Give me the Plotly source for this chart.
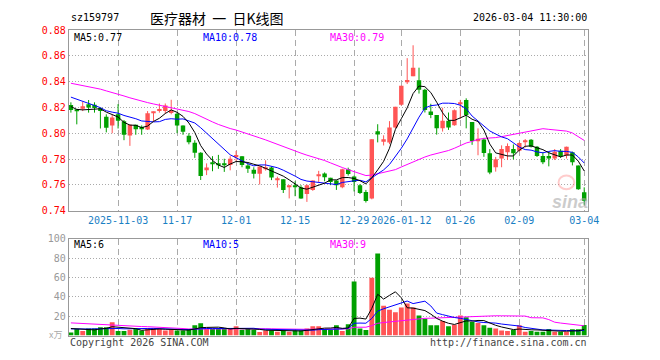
import numpy as np
import plotly.graph_objects as go

# ---------------- data ----------------
opens = [0.8220, 0.8184, 0.8190, 0.8226, 0.8221, 0.8196, 0.8128, 0.8061, 0.8147, 0.8093,
         0.7983, 0.8066, 0.8049, 0.8029, 0.8160, 0.8172, 0.8172, 0.8157, 0.8152, 0.8061,
         0.7980, 0.7926, 0.7848, 0.7712, 0.7771, 0.7766, 0.7766, 0.7753, 0.7819, 0.7822,
         0.7749, 0.7717, 0.7685, 0.7722, 0.7734, 0.7636, 0.7642, 0.7580, 0.7597, 0.7580,
         0.7528, 0.7560, 0.7669, 0.7688, 0.7654, 0.7634, 0.7580, 0.7720, 0.7664, 0.7597,
         0.7543, 0.7494, 0.8016, 0.7934, 0.7928, 0.8045, 0.8222, 0.8401, 0.8443, 0.8411,
         0.8337, 0.8168, 0.8141, 0.8038, 0.8097, 0.8063, 0.8229, 0.8259, 0.8087, 0.7945,
         0.7952, 0.7845, 0.7736, 0.7804, 0.7853, 0.7877, 0.7865, 0.7938, 0.7950, 0.7896,
         0.7823, 0.7823, 0.7804, 0.7865, 0.7828, 0.7853, 0.7750, 0.7541]
highs = [0.8240, 0.8186, 0.8245, 0.8258, 0.8240, 0.8200, 0.8147, 0.8142, 0.8226, 0.8103,
         0.8066, 0.8066, 0.8061, 0.8172, 0.8169, 0.8231, 0.8231, 0.8260, 0.8160, 0.8061,
         0.8000, 0.7946, 0.7853, 0.7766, 0.7822, 0.7832, 0.7802, 0.7822, 0.7863, 0.7822,
         0.7766, 0.7736, 0.7741, 0.7790, 0.7741, 0.7663, 0.7642, 0.7597, 0.7627, 0.7597,
         0.7602, 0.7634, 0.7708, 0.7696, 0.7654, 0.7634, 0.7725, 0.7733, 0.7671, 0.7605,
         0.7560, 0.7954, 0.8070, 0.7984, 0.8094, 0.8205, 0.8369, 0.8583, 0.8683, 0.8509,
         0.8345, 0.8229, 0.8141, 0.8198, 0.8161, 0.8185, 0.8259, 0.8271, 0.8087, 0.8038,
         0.7964, 0.7877, 0.7816, 0.7906, 0.7921, 0.7913, 0.7930, 0.7955, 0.7955, 0.7901,
         0.7853, 0.7857, 0.7877, 0.7877, 0.7896, 0.7857, 0.7750, 0.7580]
lows = [0.8160, 0.8069, 0.8172, 0.8160, 0.8160, 0.8037, 0.8007, 0.8000, 0.8037, 0.7946,
        0.7902, 0.7988, 0.7988, 0.8025, 0.8093, 0.8160, 0.8152, 0.8147, 0.8000, 0.7988,
        0.7914, 0.7809, 0.7637, 0.7675, 0.7705, 0.7724, 0.7700, 0.7712, 0.7783, 0.7736,
        0.7692, 0.7649, 0.7602, 0.7710, 0.7636, 0.7578, 0.7536, 0.7494, 0.7511, 0.7491,
        0.7467, 0.7553, 0.7622, 0.7627, 0.7597, 0.7560, 0.7573, 0.7671, 0.7548, 0.7528,
        0.7462, 0.7487, 0.7929, 0.7905, 0.7915, 0.8038, 0.8215, 0.8382, 0.8443, 0.8308,
        0.8161, 0.8117, 0.7989, 0.8013, 0.8026, 0.8058, 0.8112, 0.8038, 0.7910, 0.7829,
        0.7817, 0.7682, 0.7702, 0.7736, 0.7792, 0.7797, 0.7857, 0.7889, 0.7889, 0.7816,
        0.7760, 0.7743, 0.7792, 0.7809, 0.7804, 0.7750, 0.7561, 0.7444]
closes = [0.8180, 0.8172, 0.8210, 0.8200, 0.8196, 0.8172, 0.8042, 0.8123, 0.8098, 0.7988,
          0.8066, 0.8032, 0.8037, 0.8155, 0.8169, 0.8189, 0.8216, 0.8177, 0.8061, 0.8012,
          0.7931, 0.7848, 0.7669, 0.7734, 0.7763, 0.7753, 0.7753, 0.7802, 0.7832, 0.7753,
          0.7724, 0.7685, 0.7741, 0.7734, 0.7656, 0.7644, 0.7560, 0.7597, 0.7580, 0.7494,
          0.7597, 0.7634, 0.7678, 0.7659, 0.7622, 0.7597, 0.7720, 0.7683, 0.7622, 0.7536,
          0.7474, 0.7954, 0.7991, 0.7954, 0.8045, 0.8205, 0.8369, 0.8413, 0.8509, 0.8337,
          0.8180, 0.8141, 0.8038, 0.8097, 0.8045, 0.8178, 0.8239, 0.8141, 0.7940, 0.7957,
          0.7847, 0.7695, 0.7799, 0.7877, 0.7901, 0.7845, 0.7925, 0.7945, 0.7896, 0.7823,
          0.7775, 0.7804, 0.7857, 0.7823, 0.7896, 0.7775, 0.7566, 0.7476]
volumes = [3.3, 6.7, 4.7, 7.3, 7.3, 8.7, 8.7, 13.7, 4.7, 4.7,
           6.0, 6.7, 5.3, 7.7, 7.7, 6.7, 5.3, 6.0, 5.3, 5.3,
           6.7, 10.7, 12.7, 6.7, 6.7, 6.7, 6.7, 7.3, 9.7, 6.0,
           6.7, 6.0, 3.7, 5.3, 5.3, 4.0, 5.3, 4.0, 5.3, 5.3,
           7.3, 9.7, 9.7, 6.5, 5.7, 10.7, 4.7, 11.7, 55.7, 7.3,
           5.7, 59.7, 84.7, 30.7, 26.7, 24.0, 29.0, 33.0, 29.0, 20.7,
           17.3, 10.7, 10.7, 15.0, 9.7, 11.3, 20.7, 19.0, 14.0, 13.0,
           10.7, 8.0, 7.3, 5.3, 4.7, 5.7, 10.7, 4.0, 4.7, 4.0,
           4.0, 6.7, 4.0, 4.0, 4.0, 6.5, 6.5, 11.0]
# closes / volumes of the 29 sessions before the window (estimated from the MA curves)
prior_close = [0.842, 0.845, 0.848, 0.850, 0.847, 0.845, 0.846, 0.845,
               0.848, 0.850, 0.846, 0.843, 0.845, 0.848, 0.849, 0.846, 0.843,
               0.838, 0.833, 0.827,
               0.832, 0.836, 0.838, 0.837, 0.834,
               0.828, 0.823, 0.818, 0.8165]
prior_volume = [18, 16, 19, 17, 18, 16, 17, 19,
                13, 15, 14, 16, 12, 14, 15, 13, 16, 14,
                22, 20, 9, 6, 5, 6, 7, 8, 9, 8, 8]

tick_idx = [8, 18, 28, 38, 48, 56, 66, 76, 87]
tick_text = ["2025-11-03", "11-17", "12-01", "12-15", "12-29",
             "2026-01-12", "01-26", "02-09", "03-04"]
price_ticks = [0.74, 0.76, 0.78, 0.80, 0.82, 0.84, 0.86, 0.88]
vol_ticks = [20, 40, 60, 80, 100]

# ---------------- derived ----------------
n = len(closes)
x = list(range(n))


def moving_avg(prior, vals, w):
    full = np.array(prior + vals, dtype=float)
    p = len(prior)
    return [float(full[p + i - w + 1:p + i + 1].mean()) for i in range(n)]


ma5 = moving_avg(prior_close, closes, 5)
ma10 = moving_avg(prior_close, closes, 10)
ma30 = moving_avg(prior_close, closes, 30)
vma5 = moving_avg(prior_volume, volumes, 5)
vma10 = moving_avg(prior_volume, volumes, 10)
vma30 = moving_avg(prior_volume, volumes, 30)

RED = "#ff5555"
GREEN = "#00a000"
up = [c >= o for o, c in zip(opens, closes)]
colors = [RED if u else GREEN for u in up]

fig = go.Figure()

# wicks
for flag, col in ((True, RED), (False, GREEN)):
    wx, wy = [], []
    for i in range(n):
        if up[i] == flag:
            wx += [i, i, None]
            wy += [lows[i], highs[i], None]
    fig.add_trace(go.Scatter(x=wx, y=wy, mode="lines", line=dict(color=col, width=1),
                             xaxis="x", yaxis="y", hoverinfo="skip"))

# bodies
body_base = [min(o, c) for o, c in zip(opens, closes)]
body_h = [max(abs(c - o), 0.0004) for o, c in zip(opens, closes)]
fig.add_trace(go.Bar(x=x, y=body_h, base=body_base, width=0.75,
                     marker=dict(color=colors, line=dict(width=0)),
                     xaxis="x", yaxis="y"))

# price MAs
for vals, col in ((ma30, "#ff00ff"), (ma10, "#0000ff"), (ma5, "#000000")):
    fig.add_trace(go.Scatter(x=x, y=vals, mode="lines", line=dict(color=col, width=1),
                             xaxis="x", yaxis="y"))

# volume bars
fig.add_trace(go.Bar(x=x, y=volumes, width=0.82,
                     marker=dict(color=colors, line=dict(width=0)),
                     xaxis="x2", yaxis="y2"))
for vals, col in ((vma30, "#ff00ff"), (vma10, "#0000ff"), (vma5, "#000000")):
    fig.add_trace(go.Scatter(x=x, y=vals, mode="lines", line=dict(color=col, width=1),
                             xaxis="x2", yaxis="y2"))

W, H = 660, 360
L, R = 70, 598
P_TOP, P_BOT = 26, 212
V_TOP, V_BOT = 241, 341
MONO = "DejaVu Sans Mono"
GRID = "#aaaaaa"
BORDER = "#999999"

xr = [-0.35, 87.65]
common_x = dict(domain=[L / W, R / W], range=xr, tickmode="array", tickvals=tick_idx,
                showgrid=True, gridcolor=GRID, griddash="6px,4px", gridwidth=1,
                zeroline=False, showline=True, mirror=True, linecolor=BORDER, linewidth=1,
                ticks="", fixedrange=True)

fig.update_layout(
    width=W, height=H, margin=dict(l=0, r=0, t=0, b=0),
    paper_bgcolor="white", plot_bgcolor="white", showlegend=False,
    barmode="overlay",
    xaxis=dict(**common_x, anchor="y", ticktext=tick_text,
               tickfont=dict(family=MONO, size=10, color="#1a80c4")),
    yaxis=dict(domain=[1 - P_BOT / H, 1 - P_TOP / H], range=[0.74, 0.88],
               tickmode="array", tickvals=price_ticks,
               ticktext=[f"{v:.2f}" for v in price_ticks],
               tickfont=dict(family=MONO, size=10, color="#ff0000"),
               showgrid=True, gridcolor=GRID, griddash="1px,2px", zeroline=False,
               showline=True, mirror=True, linecolor=BORDER, ticks="", anchor="x"),
    xaxis2=dict(**common_x, anchor="y2", showticklabels=False),
    yaxis2=dict(domain=[1 - V_BOT / H, 1 - V_TOP / H], range=[0, 100],
                tickmode="array", tickvals=vol_ticks, ticktext=[str(v) for v in vol_ticks],
                tickfont=dict(family=MONO, size=10, color="#999999"),
                showgrid=True, gridcolor=GRID, griddash="1px,2px", zeroline=False,
                showline=True, mirror=True, linecolor=BORDER, ticks="", anchor="x2"),
)


def ann(text, xp, yp, color="#000000", size=10, anchor="left", family=MONO, **kw):
    fig.add_annotation(text=text, x=xp / W, y=1 - yp / H, xref="paper", yref="paper",
                       xanchor=anchor, yanchor="middle", showarrow=False,
                       font=dict(family=family, size=size, color=color), **kw)


ann("sz159797", 70, 13)
ann("医疗器材\u00a0\u00a0一\u00a0\u00a0日K线图", 151, 13, size=14, family="Noto Sans CJK SC")
ann("2026-03-04 11:30:00", 599, 13, anchor="right")
ann(f"MA5:{ma5[-1]:.2f}", 73, 34)
ann(f"MA10:{ma10[-1]:.2f}", 204, 34, color="#0000ff")
ann(f"MA30:{ma30[-1]:.2f}", 334, 34, color="#ff00ff")
ann("MA5:6", 73, 247)
ann("MA10:5", 204, 247, color="#0000ff")
ann("MA30:9", 334, 247, color="#ff00ff")
ann("x万", 48, 340, color="#aaaaaa", size=9, family="Noto Sans CJK SC")
ann("Copyright 2026 SINA.COM", 69, 348, color="#444444")
ann("http://finance.sina.com.cn", 599, 348, color="#444444", anchor="right")

# faint sina watermark
fig.add_shape(type="circle", xref="paper", yref="paper",
              x0=568 / W, x1=584 / W, y0=1 - 190 / H, y1=1 - 176 / H,
              line=dict(color="rgba(255,110,110,0.35)", width=2),
              fillcolor="rgba(255,255,255,0)")
ann("<b><i>sina</i></b>", 600, 203, color="rgba(170,170,170,0.6)", size=18,
    anchor="right", family="Liberation Sans")

fig.write_html("out.html")
